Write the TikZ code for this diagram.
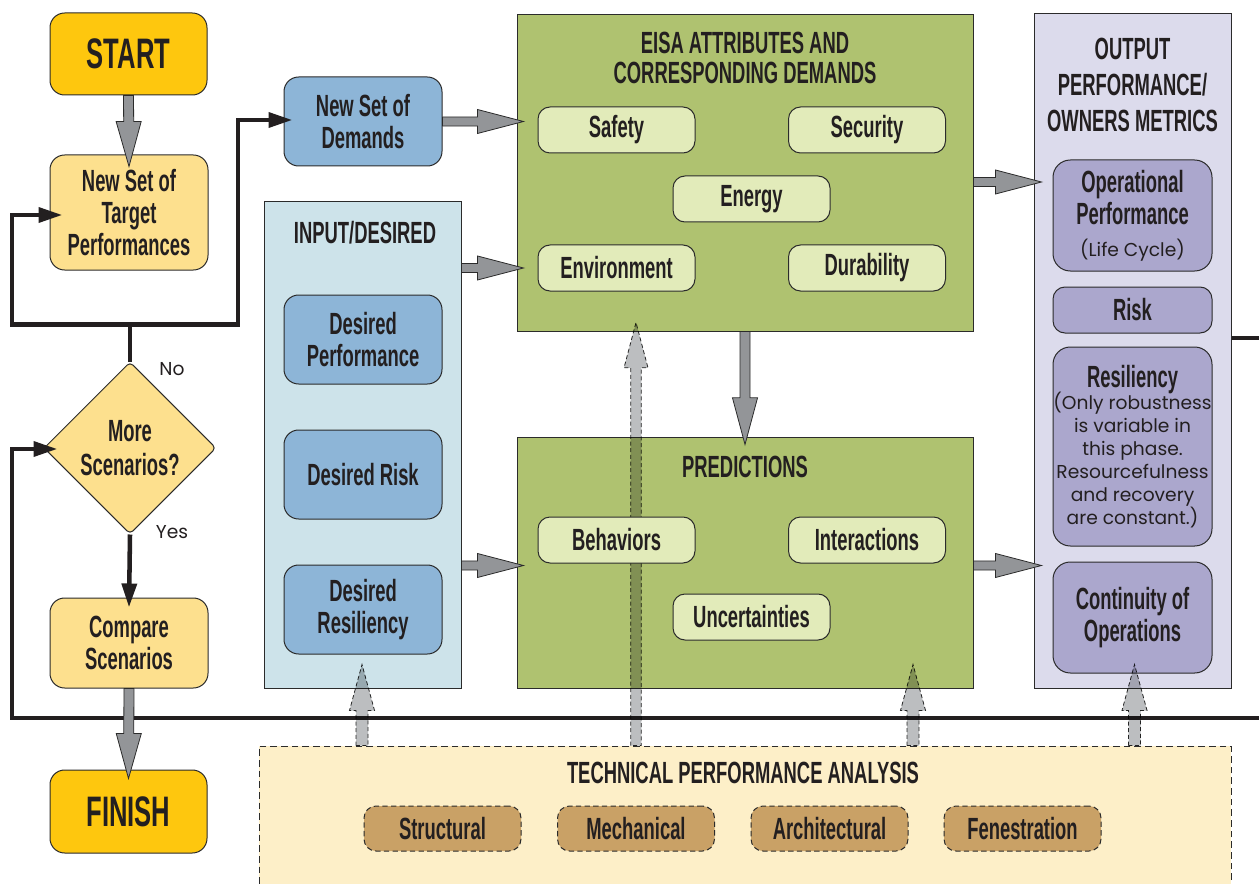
\documentclass[tikz,border=0pt]{standalone}
\usepackage{fontspec}
\setmainfont{Liberation Sans}
\newfontfamily\condfont[FakeStretch=0.6]{Liberation Sans}
\newfontfamily\bookfont{Poppins}
\usetikzlibrary{calc,shapes.geometric,arrows.meta}

\definecolor{ink}{HTML}{231F20}
\definecolor{edge}{HTML}{2B2B2B}
\definecolor{gold}{HTML}{FEC70E}
\definecolor{ylw}{HTML}{FDE08E}
\definecolor{steel}{HTML}{8DB5D7}
\definecolor{paleblue}{HTML}{CDE3EA}
\definecolor{olive}{HTML}{AFC270}
\definecolor{palegreen}{HTML}{E2EBBA}
\definecolor{lavender}{HTML}{DCDBEC}
\definecolor{purple}{HTML}{ABA7CD}
\definecolor{cream}{HTML}{FDEFC8}
\definecolor{tan}{HTML}{C9A166}
\definecolor{arrowgray}{HTML}{939598}
\definecolor{lgray}{HTML}{BCBEC0}

\newcommand\cndfont[2]{\condfont\bfseries\fontsize{#1}{#2}\selectfont}
\newcommand\bkfont{\bookfont\mdseries\fontsize{14}{17.25}\selectfont}

% block arrow: style, from, tip, shaft half-width, head half-width, head length
\newcommand\blockarrow[6]{%
  \coordinate (bahd) at ($(#3)!#6!(#2)$);
  \draw[#1] ($(#2)!#4!90:(#3)$) -- ($(bahd)!#4!90:(#3)$) -- ($(bahd)!#5!90:(#3)$)
    -- (#3) -- ($(bahd)!#5!-90:(#3)$) -- ($(bahd)!#4!-90:(#3)$) -- ($(#2)!#4!-90:(#3)$) -- cycle;}

\tikzset{
  outl/.style={draw=edge, line width=0.75pt},
  panel/.style={outl, rectangle, inner sep=0pt},
  rbox/.style={outl, rectangle, rounded corners=9pt, inner sep=0pt, align=center,
    text=ink, font=\cndfont{23}{24}},
  goldbox/.style={rbox, fill=gold, rounded corners=11pt, font=\cndfont{32}{32},
    minimum width=117.75pt},
  ylwbox/.style={rbox, fill=ylw, rounded corners=11pt, minimum width=118.5pt},
  bluebox/.style={rbox, fill=steel, rounded corners=11pt, minimum width=118.5pt, minimum height=66.75pt},
  gbox/.style={rbox, fill=palegreen, minimum width=117.75pt, minimum height=34.5pt},
  pbox/.style={rbox, fill=purple, rounded corners=13pt, minimum width=119.25pt},
  tbox/.style={rbox, fill=tan, dash pattern=on 4pt off 2.5pt, minimum width=117.75pt, minimum height=33.75pt},
  title/.style={align=center, text=ink, font=\cndfont{23}{23}, inner sep=0pt},
  small/.style={text=ink, font=\bkfont, inner sep=0pt},
  flow/.style={draw=ink, line width=3.4pt, line join=miter},
  flowtip/.style={flow, -{Triangle[length=18pt,width=11pt]}},
  garrow/.style={fill=arrowgray, draw=edge, line width=0.6pt, line join=miter},
  dgarrow/.style={fill=lgray, draw=edge, line width=0.6pt, line join=miter, dash pattern=on 3pt off 2pt},
}

\begin{document}
\begin{tikzpicture}[x=0.75pt, y=-0.75pt]
\useasboundingbox (0,0) rectangle (1259,884);

% ---------- panels ----------
\node[panel, fill=paleblue, minimum width=147.75pt, minimum height=364.5pt] (inpanel) at (362.5,445) {};
\node[panel, fill=olive, minimum width=342pt, minimum height=237pt] (eisa) at (745,173) {};
\node[panel, fill=olive, minimum width=342pt, minimum height=188.25pt] (pred) at (745,562.5) {};
\node[panel, fill=lavender, minimum width=147.75pt, minimum height=505.5pt] (outpanel) at (1132.5,351) {};
\node[panel, fill=cream, dash pattern=on 5pt off 3pt, minimum width=729pt, minimum height=115.5pt] (tpa) at (745,823) {};

% ---------- decision column ----------
\node[goldbox, minimum height=61.5pt] (start) at (128.5,54) {START};
\node[ylwbox, minimum height=86.25pt] (target) at (129,212.5) {New Set of\\Target\\Performances};
\node[diamond, aspect=1, outl, fill=ylw, minimum width=129pt, minimum height=129pt, inner sep=0pt,
      rounded corners=3pt, align=center, text=ink, font=\cndfont{23}{25}] (dia) at (130,448) {More\\Scenarios?};
\node[ylwbox, minimum height=67.5pt] (compare) at (129,643) {Compare\\Scenarios};
\node[goldbox, minimum height=62.25pt] (finish) at (128.5,811.5) {FINISH};
\node[small] (nolbl) at (172,369) {No};
\node[small] (yeslbl) at (172,532) {Yes};
\node[bluebox] (demands) at (363,121.5) {New Set of\\Demands};

% ---------- black flow lines ----------
\coordinate (leftrail) at (12,0);
\coordinate (midrail) at (238,0);
\coordinate (rightrail) at (1300,0);
\coordinate (bottomrail) at (0,718);
\coordinate (split) at ($(dia.north)+(0,-37)$);
\coordinate (tipA) at ($(target.west)+(13,2.5)$);
\coordinate (tipB) at ($(demands.west)+(9,-1.5)$);
\coordinate (tipC) at ($(dia.west)+(14,1)$);
\coordinate (tipD) at ($(compare.north)+(0,10)$);
\coordinate (loopout) at ($(outpanel.east)+(0,-13)$);

\draw[flowtip] (dia.north) -- (split) -| (leftrail |- tipA) -- (tipA);
\draw[flowtip] (split) -| (midrail |- tipB) -- (tipB);
\draw[flowtip] (loopout) -- (rightrail |- loopout) -- (rightrail |- bottomrail)
  -- (leftrail |- bottomrail) -- (leftrail |- tipC) -- (tipC);
\draw[flowtip] (dia.south) -- (tipD);

% ---------- panel titles ----------
\node[title] (intitle) at (365,233) {INPUT/DESIRED};
\node[title] (eisatitle) at (745,58) {EISA ATTRIBUTES AND\\CORRESPONDING DEMANDS};
\node[title] (predtitle) at (745,467) {PREDICTIONS};
\node[title, font=\cndfont{23}{27}] (outtitle) at (1132.5,85) {OUTPUT\\PERFORMANCE/\\OWNERS METRICS};
\node[title] (tpatitle) at (743,773) {TECHNICAL PERFORMANCE ANALYSIS};

% ---------- analysis feeding the demands (behind the prediction boxes) ----------
\node[tbox] (mech) at (636,828.5) {Mechanical};
\coordinate (d2tip) at ($(eisa.south -| mech)+(0,-9)$);
\coordinate (d2a) at (tpa.north -| d2tip);
\begin{scope}[blend mode=multiply]
\blockarrow{dgarrow}{d2a}{d2tip}{4pt}{9pt}{34pt}
\end{scope}

% ---------- input boxes ----------
\node[bluebox] (desperf) at (363,339.5) {Desired\\Performance};
\node[bluebox] (desrisk) at (363,474.5) {Desired Risk};
\node[bluebox] (desres) at (363,609.5) {Desired\\Resiliency};

% ---------- EISA attributes ----------
\node[gbox] (safety) at (616.5,130) {Safety};
\node[gbox] (security) at (867,130) {Security};
\node[gbox] (energy) at (751.5,199) {Energy};
\node[gbox] (envir) at (616.5,268) {Environment};
\node[gbox] (durab) at (867,268) {Durability};

% ---------- predictions ----------
\node[gbox] (behav) at (616.5,540) {Behaviors};
\node[gbox] (interact) at (867,540) {Interactions};
\node[gbox] (uncert) at (751.5,617) {Uncertainties};

% ---------- output metrics ----------
\node[pbox, minimum height=83.25pt] (opperf) at (1132.5,215.5) {Operational\\Performance\\{\bkfont (Life Cycle)}};
\node[pbox, rounded corners=9pt, minimum height=34.5pt] (riskout) at (1132.5,310) {Risk};
\node[pbox, minimum height=149.25pt, font=\bkfont] (resil) at (1132.5,446.5)
  {{\cndfont{23}{24}Resiliency}\\[-2pt](Only robustness\\is variable in\\this phase.\\Resourcefulness\\and recovery\\are constant.)};
\node[pbox, minimum height=83.25pt] (contin) at (1132.5,617.5) {Continuity of\\Operations};

% ---------- technical analysis disciplines ----------
\node[tbox] (struct) at (442.5,828.5) {Structural};
\node[tbox] (archit) at (829.5,828.5) {Architectural};
\node[tbox] (fenest) at (1022.5,828.5) {Fenestration};

% ---------- gray block arrows ----------
\coordinate (g1tip) at ($(target.north)+(0,12)$);
\blockarrow{garrow}{start.south}{g1tip}{3.75pt}{9.4pt}{33.75pt}
\coordinate (g2tip) at ($(finish.north)+(0,9)$);
\blockarrow{garrow}{compare.south}{g2tip}{3.75pt}{9.4pt}{33.75pt}
\coordinate (g3tip) at ($(eisa.west |- demands.east)+(7,0)$);
\blockarrow{garrow}{demands.east}{g3tip}{3.4pt}{9pt}{34.5pt}
\coordinate (g4a) at (inpanel.east |- envir);
\coordinate (g4tip) at ($(eisa.west |- envir)+(7,0)$);
\blockarrow{garrow}{g4a}{g4tip}{3.4pt}{9pt}{34.5pt}
\coordinate (g5a) at ($(inpanel.east |- pred.west)+(0,3)$);
\coordinate (g5tip) at ($(pred.west)+(7,3)$);
\blockarrow{garrow}{g5a}{g5tip}{3.4pt}{9pt}{34.5pt}
\coordinate (g6a) at ($(eisa.east)+(0,9)$);
\coordinate (g6tip) at ($(outpanel.west |- g6a)+(8,0)$);
\blockarrow{garrow}{g6a}{g6tip}{3.4pt}{9pt}{34.5pt}
\coordinate (g7a) at ($(pred.east)+(0,3)$);
\coordinate (g7tip) at ($(outpanel.west |- g7a)+(8,0)$);
\blockarrow{garrow}{g7a}{g7tip}{3.4pt}{9pt}{34.5pt}
\coordinate (g8tip) at ($(pred.north)+(0,8)$);
\blockarrow{garrow}{eisa.south}{g8tip}{3.75pt}{9.4pt}{35pt}

% ---------- dashed analysis arrows ----------
\coordinate (d1tip) at ($(desres.south)+(-1,10)$);
\coordinate (d1a) at (tpa.north -| d1tip);
\coordinate (d3tip) at ($(pred.south)+(168,-24)$);
\coordinate (d3a) at (tpa.north -| d3tip);
\coordinate (d4tip) at ($(contin.south)+(2,-9)$);
\coordinate (d4a) at (tpa.north -| d4tip);
\begin{scope}[blend mode=multiply]
\blockarrow{dgarrow}{d1a}{d1tip}{4.5pt}{9.4pt}{34.5pt}
\blockarrow{dgarrow}{d3a}{d3tip}{4.5pt}{9.4pt}{34.5pt}
\blockarrow{dgarrow}{d4a}{d4tip}{4.5pt}{9.4pt}{34.5pt}
\end{scope}
\end{tikzpicture}
\end{document}
